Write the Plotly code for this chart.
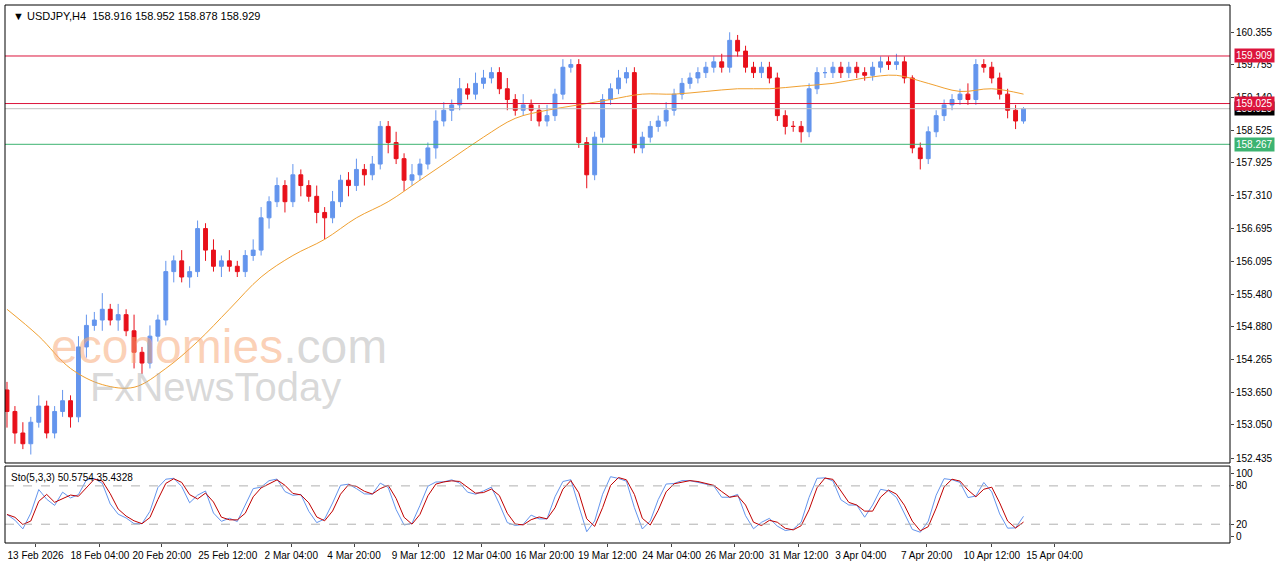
import plotly.graph_objects as go
import numpy as np

closes = [153.3,152.9,152.7,153.1,153.4,152.9,153.3,153.5,153.2,154.5,
          154.9,155.0,155.2,155.0,155.1,154.8,154.4,154.2,154.7,155.0,
          155.9,156.1,155.8,155.9,156.7,156.3,156.0,156.1,156.0,155.9,
          156.2,156.3,156.9,157.2,157.5,157.2,157.7,157.5,157.3,157.0,
          156.9,157.2,157.6,157.5,157.8,157.7,157.9,158.6,158.3,158.0,
          157.6,157.7,157.9,158.2,158.7,158.9,159.0,159.3,159.2,159.4,
          159.5,159.6,159.3,159.1,158.9,159.0,158.9,158.7,158.8,159.2,
          159.7,159.75,158.3,157.7,158.4,159.1,159.3,159.5,159.6,158.2,
          158.4,158.6,158.7,158.9,159.2,159.4,159.5,159.6,159.7,159.8,
          159.7,160.2,160.0,159.7,159.6,159.7,159.5,158.8,158.6,158.6,
          158.5,159.3,159.6,159.6,159.7,159.6,159.7,159.6,159.55,159.7,
          159.8,159.75,159.8,159.5,158.2,158.0,158.5,158.8,159.0,159.1,
          159.2,159.1,159.75,159.7,159.5,159.2,158.9,158.7,158.929]
first_open = 153.7
wick_up = [0.15,0.1,0.2,0.1,0.2,0.1,0.1,0.2,0.1,0.2,
           0.2,0.15,0.3,0.1,0.2,0.1,0.3,0.1,0.2,0.1,
           0.2,0.1,0.2,0.1,0.15,0.1,0.2,0.1,0.2,0.1,
           0.1,0.2,0.2,0.1,0.15,0.1,0.2,0.1,0.1,0.2,
           0.1,0.2,0.1,0.15,0.2,0.1,0.15,0.1,0.1,0.2,
           0.1,0.2,0.1,0.1,0.2,0.15,0.1,0.2,0.1,0.2,
           0.15,0.1,0.1,0.2,0.1,0.2,0.1,0.1,0.2,0.1,
           0.15,0.1,0.1,0.1,0.1,0.1,0.1,0.15,0.1,0.1,
           0.1,0.1,0.1,0.15,0.1,0.1,0.1,0.1,0.1,0.1,
           0.15,0.15,0.1,0.1,0.1,0.1,0.1,0.1,0.1,0.1,
           0.1,0.1,0.1,0.1,0.1,0.1,0.1,0.1,0.1,0.1,
           0.1,0.1,0.15,0.1,0.05,0.1,0.1,0.1,0.1,0.1,
           0.1,0.2,0.1,0.1,0.1,0.1,0.1,0.1,0.03]
wick_dn = [0.3,0.2,0.1,0.2,0.1,0.1,0.1,0.1,0.2,0.1,
           0.2,0.1,0.2,0.1,0.2,0.1,0.3,0.2,0.1,0.1,
           0.1,0.2,0.1,0.2,0.1,0.2,0.1,0.2,0.1,0.1,
           0.1,0.1,0.1,0.2,0.1,0.2,0.1,0.2,0.1,0.2,
           0.4,0.1,0.1,0.2,0.1,0.2,0.1,0.1,0.2,0.1,
           0.2,0.1,0.1,0.1,0.2,0.1,0.2,0.1,0.1,0.1,
           0.1,0.1,0.1,0.2,0.1,0.1,0.2,0.1,0.1,0.1,
           0.1,0.1,0.1,0.25,0.1,0.1,0.1,0.1,0.1,0.1,
           0.1,0.1,0.1,0.1,0.1,0.1,0.1,0.1,0.1,0.1,
           0.1,0.1,0.1,0.1,0.1,0.1,0.1,0.1,0.15,0.1,
           0.2,0.1,0.1,0.1,0.1,0.1,0.1,0.1,0.1,0.1,
           0.1,0.1,0.1,0.1,0.1,0.2,0.1,0.1,0.1,0.1,
           0.1,0.1,0.1,0.1,0.1,0.1,0.15,0.15,0.05]
ma_idx = list(range(0, 129, 4))
ma_vals = [155.2,154.7,154.1,153.8,153.75,154.1,154.6,155.2,155.8,156.2,156.5,
           156.9,157.2,157.6,158.0,158.4,158.75,158.9,159.0,159.1,159.2,159.2,
           159.25,159.3,159.3,159.35,159.4,159.5,159.55,159.4,159.25,159.3,159.2]
tick_pos = [3.6,11.7,19.5,27.8,35.8,43.7,51.8,59.8,67.7,75.6,83.7,91.6,99.7,107.5,115.8,124.0,131.9]
tick_text = ["13 Feb 2026","18 Feb 04:00","20 Feb 20:00","25 Feb 12:00","2 Mar 04:00",
             "4 Mar 20:00","9 Mar 12:00","12 Mar 04:00","16 Mar 20:00","19 Mar 12:00",
             "24 Mar 04:00","26 Mar 20:00","31 Mar 12:00","3 Apr 04:00","7 Apr 20:00",
             "10 Apr 12:00","15 Apr 04:00"]
price_ticks = [160.355,159.755,159.140,158.525,157.925,157.310,156.695,156.095,
               155.480,154.880,154.265,153.650,153.050,152.435]
levels = [(159.909, "#dc143c"), (159.025, "#dc143c"), (158.267, "#3cb371")]

n = len(closes)
x = np.arange(n)
opens = [first_open] + closes[:-1]
highs = [max(o, c) + w for o, c, w in zip(opens, closes, wick_up)]
lows = [min(o, c) - w for o, c, w in zip(opens, closes, wick_dn)]

# stochastic from compressed bars
hh = np.array(highs); ll = np.array(lows); cc = np.array(closes)
k_raw = np.zeros(n)
for i in range(n):
    a = max(0, i - 2)
    den = hh[a:i+1].max() - ll[a:i+1].min()
    k_raw[i] = 100 * (cc[i] - ll[a:i+1].min()) / den if den else 50
k = np.array([k_raw[max(0, i-1):i+1].mean() for i in range(n)])
d = np.array([k[max(0, i-1):i+1].mean() for i in range(n)])

fig = go.Figure()
fig.add_trace(go.Candlestick(x=x, open=opens, high=highs, low=lows, close=closes,
    increasing=dict(line=dict(color="#6495ed", width=1), fillcolor="#6495ed"),
    decreasing=dict(line=dict(color="#e8101a", width=1), fillcolor="#e8101a"),
    whiskerwidth=0, xaxis="x", yaxis="y", showlegend=False))
fig.add_trace(go.Scatter(x=ma_idx, y=ma_vals, mode="lines", line=dict(color="#f0a030", width=1, shape="spline"),
                         xaxis="x", yaxis="y", showlegend=False))
fig.add_trace(go.Scatter(x=x, y=k, mode="lines", line=dict(color="#6495ed", width=1), xaxis="x2", yaxis="y2", showlegend=False))
fig.add_trace(go.Scatter(x=x, y=d, mode="lines", line=dict(color="#c00000", width=1), xaxis="x2", yaxis="y2", showlegend=False))

shapes = []
for lv, col in levels:
    shapes.append(dict(type="line", xref="paper", x0=0, x1=1, yref="y", y0=lv, y1=lv, line=dict(color=col, width=1)))
shapes.append(dict(type="line", xref="paper", x0=0, x1=1, yref="y", y0=158.929, y1=158.929, line=dict(color="#c0c0c0", width=1)))
for lv in [80, 20]:
    shapes.append(dict(type="line", xref="paper", x0=0, x1=1, yref="y2", y0=lv, y1=lv, line=dict(color="#b0b0b0", width=1, dash="dash")))
for y0, y1 in [(0.1487, 1.0), (0.0, 0.143)]:
    shapes.append(dict(type="rect", xref="paper", yref="paper", x0=0, x1=1, y0=y0, y1=y1, line=dict(color="black", width=1)))

ann = [dict(xref="paper", yref="paper", x=0.005, y=0.995, xanchor="left", yanchor="top", showarrow=False,
            text="▼ USDJPY,H4  158.916 158.952 158.878 158.929", font=dict(size=11, color="black")),
       dict(xref="paper", yref="paper", x=0.003, y=0.135, xanchor="left", yanchor="top", showarrow=False,
            text="Sto(5,3,3) 50.5754 35.4328", font=dict(size=10, color="black")),
       dict(xref="paper", yref="paper", x=0.036, y=0.365, xanchor="left", yanchor="middle", showarrow=False,
            text="<span style='color:rgba(248,170,120,0.55)'>economies</span><span style='color:rgba(170,170,170,0.45)'>.com</span>",
            font=dict(size=48, family="Arial")),
       dict(xref="paper", yref="paper", x=0.068, y=0.29, xanchor="left", yanchor="middle", showarrow=False,
            text="FxNewsToday", font=dict(size=40, family="Arial", color="rgba(170,170,170,0.45)"))]
for lv, col in [(158.929, "black"), (159.909, "#dc143c"), (159.025, "#dc143c"), (158.267, "#3cb371")]:
    ann.append(dict(xref="paper", yref="y", x=1.003, y=lv, xanchor="left", yanchor="middle", showarrow=False,
                    text=f"{lv:.3f}", bgcolor=col, font=dict(size=10, color="white"), borderpad=1))

fig.update_layout(
    width=1280, height=567, margin=dict(l=5, r=50, t=5, b=24, autoexpand=False),
    paper_bgcolor="white", plot_bgcolor="white", font=dict(family="Arial", size=10, color="black"),
    xaxis=dict(domain=[0, 1], range=[-0.25, 154], showticklabels=False, showgrid=False, zeroline=False,
               rangeslider=dict(visible=False), anchor="y", matches="x2", automargin=False),
    yaxis=dict(domain=[0.1487, 1.0], range=[152.342, 160.857], side="right", tickvals=price_ticks,
               ticktext=[f"{v:.3f}" for v in price_ticks], showgrid=False, zeroline=False, ticks="outside",
               ticklen=3, automargin=False),
    xaxis2=dict(domain=[0, 1], range=[-0.25, 154], tickvals=tick_pos, ticktext=tick_text, showgrid=False,
                zeroline=False, anchor="y2", ticks="outside", ticklen=3, tickangle=0, automargin=False,
                tickfont=dict(size=10)),
    yaxis2=dict(domain=[0, 0.143], range=[-9.4, 111], side="right", tickvals=[100, 80, 20, 0],
                showgrid=False, zeroline=False, anchor="x2", ticks="outside", ticklen=3, automargin=False),
    shapes=shapes, annotations=ann)
fig.write_html("out.html", config={"displayModeBar": False},
               post_script="document.body.style.margin='0';document.body.style.overflow='hidden';")
